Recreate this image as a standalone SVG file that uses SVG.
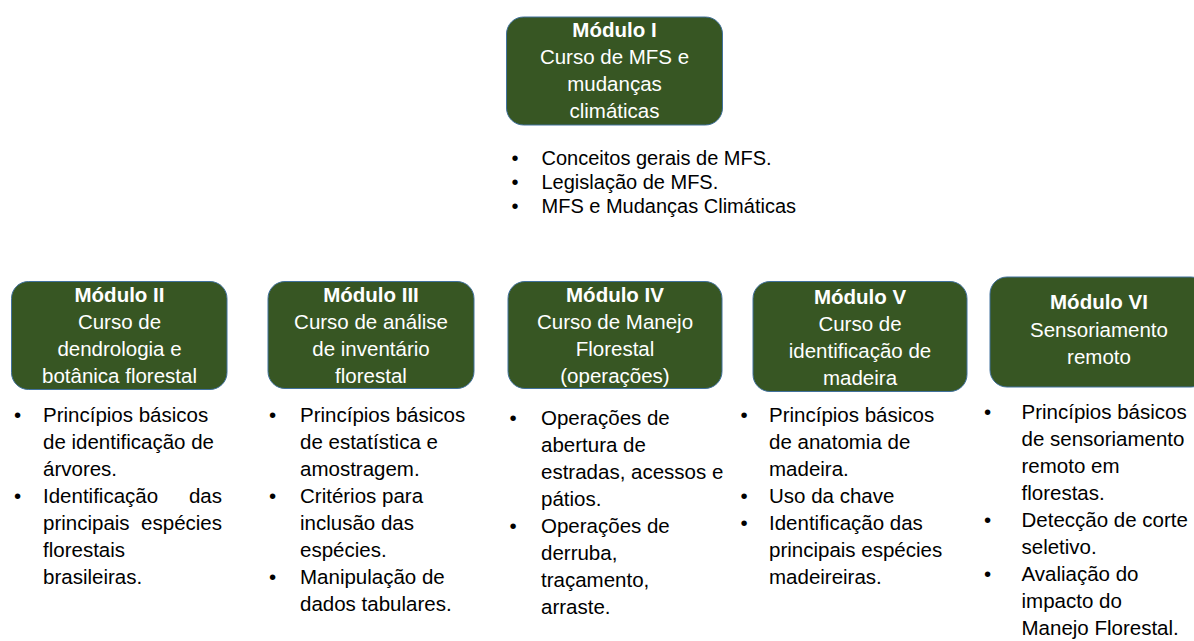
<svg xmlns="http://www.w3.org/2000/svg" width="1194" height="641" viewBox="0 0 1194 641">
<style>
.box{fill:#375623;stroke:#41719c;stroke-width:1}
.bt{font-family:"Liberation Sans",Arial,sans-serif;font-size:20.5px;fill:#ffffff;text-anchor:middle}
.bt .h{font-weight:bold}
.li{font-family:"Liberation Sans",Arial,sans-serif;font-size:20.5px;fill:#000000}
.top{font-size:20px}
.bu{text-anchor:middle}
.end{text-anchor:end}
</style>
<rect width="1194" height="641" fill="#ffffff"/>
<g id="connectors"></g>

<g id="module-1">
<rect class="box" x="506.5" y="17" width="216" height="108" rx="17"/>
<text class="bt"><tspan class="h" x="614.5" y="36.5">Módulo I</tspan><tspan x="614.5" y="63.5">Curso de MFS e</tspan><tspan x="614.5" y="90.5">mudanças</tspan><tspan x="614.5" y="117.5">climáticas</tspan></text>
<g class="li top">
<text class="bu" x="515" y="164.5">•</text><text x="541.5" y="164.5">Conceitos gerais de MFS.</text>
<text class="bu" x="515" y="188.5">•</text><text x="541.5" y="188.5">Legislação de MFS.</text>
<text class="bu" x="515" y="212.5">•</text><text x="541.5" y="212.5">MFS e Mudanças Climáticas</text>
</g>
</g>

<g id="module-2">
<rect class="box" x="11.5" y="281.5" width="215.5" height="108" rx="17"/>
<text class="bt"><tspan class="h" x="119.5" y="301.5">Módulo II</tspan><tspan x="119.5" y="328.5">Curso de</tspan><tspan x="119.5" y="355.5">dendrologia e</tspan><tspan x="119.5" y="382.5">botânica florestal</tspan></text>
<g class="li">
<text class="bu" x="17.5" y="422">•</text><text x="43" y="422">Princípios básicos</text>
<text x="43" y="449">de identificação de</text>
<text x="43" y="476">árvores.</text>
<text class="bu" x="17.5" y="503">•</text><text x="43" y="503">Identificação</text><text class="end" x="222" y="503">das</text>
<text x="43" y="530">principais</text><text class="end" x="222" y="530">espécies</text>
<text x="43" y="557">florestais</text>
<text x="43" y="584">brasileiras.</text>
</g>
</g>

<g id="module-3">
<rect class="box" x="268" y="281.5" width="206" height="107" rx="17"/>
<text class="bt"><tspan class="h" x="371" y="301.5">Módulo III</tspan><tspan x="371" y="328.5">Curso de análise</tspan><tspan x="371" y="355.5">de inventário</tspan><tspan x="371" y="382.5">florestal</tspan></text>
<g class="li">
<text class="bu" x="272.5" y="422">•</text><text x="300" y="422">Princípios básicos</text>
<text x="300" y="449">de estatística e</text>
<text x="300" y="476">amostragem.</text>
<text class="bu" x="272.5" y="503">•</text><text x="300" y="503">Critérios para</text>
<text x="300" y="530">inclusão das</text>
<text x="300" y="557">espécies.</text>
<text class="bu" x="272.5" y="584">•</text><text x="300" y="584">Manipulação de</text>
<text x="300" y="611">dados tabulares.</text>
</g>
</g>

<g id="module-4">
<rect class="box" x="508" y="281.5" width="214" height="107" rx="17"/>
<text class="bt"><tspan class="h" x="615" y="301.5">Módulo IV</tspan><tspan x="615" y="328.5">Curso de Manejo</tspan><tspan x="615" y="355.5">Florestal</tspan><tspan x="615" y="382.5">(operações)</tspan></text>
<g class="li">
<text class="bu" x="513" y="424.5">•</text><text x="541" y="424.5">Operações de</text>
<text x="541" y="451.5">abertura de</text>
<text x="541" y="478.5">estradas, acessos e</text>
<text x="541" y="505.5">pátios.</text>
<text class="bu" x="513" y="532.5">•</text><text x="541" y="532.5">Operações de</text>
<text x="541" y="559.5">derruba,</text>
<text x="541" y="586.5">traçamento,</text>
<text x="541" y="613.5">arraste.</text>
</g>
</g>

<g id="module-5">
<rect class="box" x="753" y="281.5" width="214" height="110" rx="17"/>
<text class="bt"><tspan class="h" x="860" y="303.5">Módulo V</tspan><tspan x="860" y="330.5">Curso de</tspan><tspan x="860" y="357.5">identificação de</tspan><tspan x="860" y="384.5">madeira</tspan></text>
<g class="li">
<text class="bu" x="744" y="422">•</text><text x="769" y="422">Princípios básicos</text>
<text x="769" y="449">de anatomia de</text>
<text x="769" y="476">madeira.</text>
<text class="bu" x="744" y="503">•</text><text x="769" y="503">Uso da chave</text>
<text class="bu" x="744" y="530">•</text><text x="769" y="530">Identificação das</text>
<text x="769" y="557">principais espécies</text>
<text x="769" y="584">madeireiras.</text>
</g>
</g>

<g id="module-6">
<rect class="box" x="990" y="277" width="218" height="110" rx="17"/>
<text class="bt"><tspan class="h" x="1099" y="309">Módulo VI</tspan><tspan x="1099" y="336.5">Sensoriamento</tspan><tspan x="1099" y="364">remoto</tspan></text>
<g class="li">
<text class="bu" x="987.5" y="418.5">•</text><text x="1021.5" y="418.5">Princípios básicos</text>
<text x="1021.5" y="445.5">de sensoriamento</text>
<text x="1021.5" y="472.5">remoto em</text>
<text x="1021.5" y="499.5">florestas.</text>
<text class="bu" x="987.5" y="526.5">•</text><text x="1021.5" y="526.5">Detecção de corte</text>
<text x="1021.5" y="553.5">seletivo.</text>
<text class="bu" x="987.5" y="580.5">•</text><text x="1021.5" y="580.5">Avaliação do</text>
<text x="1021.5" y="607.5">impacto do</text>
<text x="1021.5" y="634.5">Manejo Florestal.</text>
</g>
</g>
</svg>
